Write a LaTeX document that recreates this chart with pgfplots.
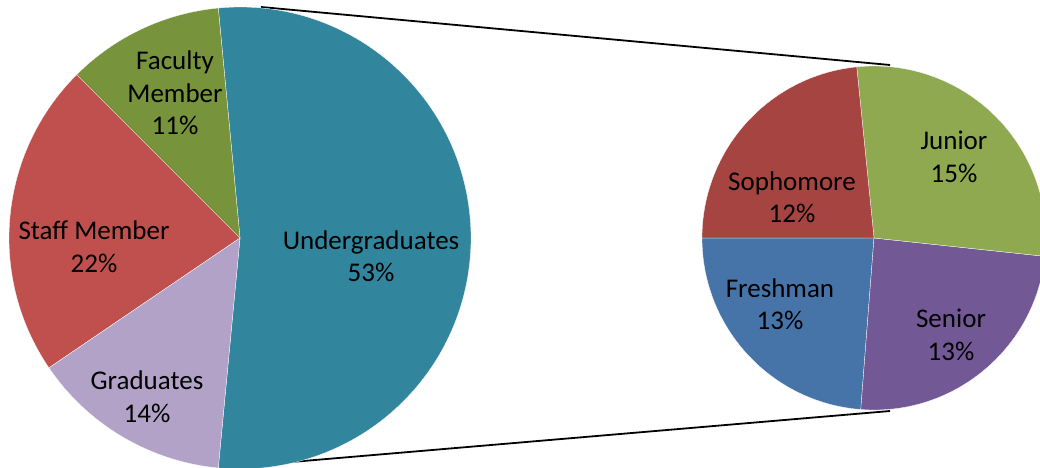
\documentclass[border=0pt]{standalone}
\usepackage{pgfplots}
\pgfplotsset{compat=1.18}
\usepackage{fontspec}
\setmainfont{Carlito}
\definecolor{cUnder}{RGB}{49,133,156}
\definecolor{cFac}{RGB}{119,147,60}
\definecolor{cStaff}{RGB}{192,80,77}
\definecolor{cGrad}{RGB}{179,162,199}
\definecolor{cSoph}{RGB}{165,68,65}
\definecolor{cJun}{RGB}{142,169,80}
\definecolor{cFresh}{RGB}{70,116,168}
\definecolor{cSen}{RGB}{115,88,150}
% main pie values (percent)
\def\pU{53}\def\pF{11}\def\pS{22}\def\pG{14}
% secondary pie (split of Undergraduates, percent of total)
\def\sFr{12.6}\def\sSe{13.0}\def\sJu{15.0}\def\sSo{12.4}
% geometry
\def\Rb{231}\def\Cbx{240}\def\Cby{229}
\def\Rs{172}\def\Csx{874}\def\Csy{229}
\pgfmathsetmacro{\aA}{90+(\pU*3.6-180)/2}
\pgfmathsetmacro{\aUe}{\aA-\pU*3.6}
\pgfmathsetmacro{\aB}{\aA+\pF*3.6}
\pgfmathsetmacro{\aC}{\aB+\pS*3.6}
\pgfmathsetmacro{\aD}{\aC+\pG*3.6}
\pgfmathsetmacro{\sT}{\sFr+\sSe+\sJu+\sSo}
\pgfmathsetmacro{\bA}{180}
\pgfmathsetmacro{\bB}{\bA+\sFr/\sT*360}
\pgfmathsetmacro{\bC}{\bB+\sSe/\sT*360}
\pgfmathsetmacro{\bD}{\bC+\sJu/\sT*360}
\pgfmathsetmacro{\bE}{\bD+\sSo/\sT*360}
\newcommand{\pieslice}[6]{% color, cx, cy, r, start, end
  \fill[#1,draw=white,line width=0.3pt] (axis cs:#2,#3) -- ++(#5:#4pt) arc[start angle=#5,end angle=#6,radius=#4pt] -- cycle;}
\begin{document}
\begin{tikzpicture}
\begin{axis}[width=1040pt,height=467pt,scale only axis,
  xmin=0,xmax=1040,ymin=0,ymax=467,hide axis,clip=true]
\draw[black,line width=1.8pt] (axis cs:261,460) -- (axis cs:890,402);
\draw[black,line width=1.8pt] (axis cs:221,-1) -- (axis cs:890,56);
\pieslice{cUnder}{\Cbx}{\Cby}{\Rb}{\aA}{\aUe}
\pieslice{cFac}{\Cbx}{\Cby}{\Rb}{\aA}{\aB}
\pieslice{cStaff}{\Cbx}{\Cby}{\Rb}{\aB}{\aC}
\pieslice{cGrad}{\Cbx}{\Cby}{\Rb}{\aC}{\aD}
\pieslice{cFresh}{\Csx}{\Csy}{\Rs}{\bA}{\bB}
\pieslice{cSen}{\Csx}{\Csy}{\Rs}{\bB}{\bC}
\pieslice{cJun}{\Csx}{\Csy}{\Rs}{\bC}{\bD}
\pieslice{cSoph}{\Csx}{\Csy}{\Rs}{\bD}{\bE}
\begin{scope}[every node/.style={align=center,font=\fontsize{27}{32.5}\selectfont,text=black}]
\node at (axis cs:175,374) {Faculty\\Member\\11\%};
\node at (axis cs:94,220.5) {Staff Member\\22\%};
\node at (axis cs:147,70.5) {Graduates\\14\%};
\node at (axis cs:371,211) {Undergraduates\\53\%};
\node at (axis cs:792,270) {Sophomore\\12\%};
\node at (axis cs:954,310) {Junior\\15\%};
\node at (axis cs:780,163) {Freshman\\13\%};
\node at (axis cs:951,132) {Senior\\13\%};
\end{scope}
\end{axis}
\end{tikzpicture}
\end{document}
